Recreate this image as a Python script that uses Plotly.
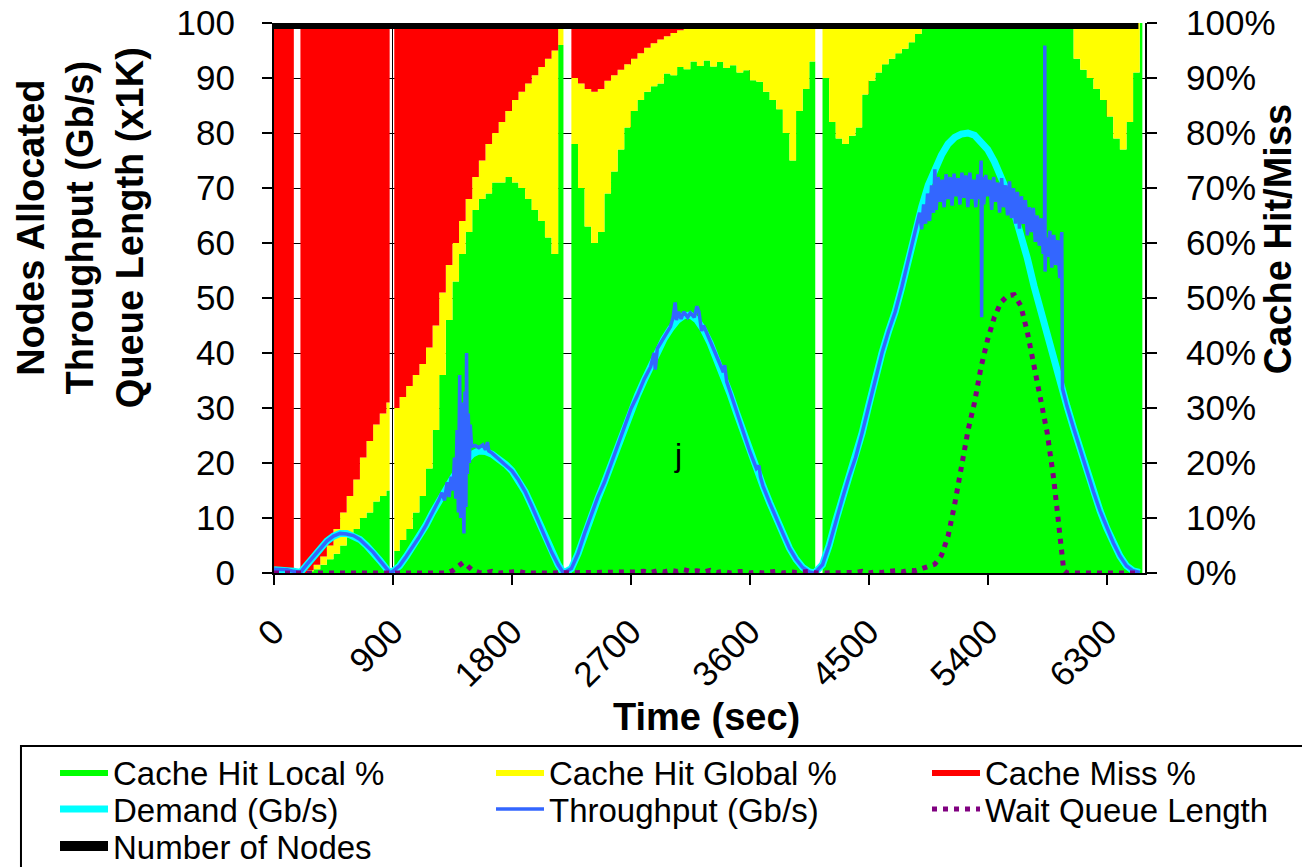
import plotly.graph_objects as go

# ---------------- data ----------------
# Cache statistics (percent, right axis); zero rows are periods with no data
cache_time = [0, 50, 100, 150,
              200, 250, 300, 350, 400, 450, 500, 550, 600, 650, 700, 750, 800, 850, 875,
              910, 950, 1000, 1050, 1100, 1150, 1200, 1250, 1300, 1350, 1400, 1450, 1500,
              1550, 1600, 1650, 1700, 1750, 1800, 1850, 1900, 1950, 2000, 2050, 2100, 2150, 2190,
              2250, 2300, 2350, 2400, 2450, 2500, 2550, 2600, 2650, 2700, 2750, 2800, 2850,
              2900, 2950, 3000, 3050, 3100, 3150, 3200, 3250, 3300, 3350, 3400, 3450, 3500,
              3550, 3600, 3650, 3700, 3750, 3800, 3850, 3900, 3950, 4000, 4050, 4095,
              4150, 4200, 4250, 4300, 4350, 4400, 4450, 4500, 4550, 4600, 4650, 4700, 4750,
              4800, 4850, 4900, 4950, 5000, 5050, 5100, 5150, 5200, 5250, 5300, 5350, 5400,
              5450, 5500, 5550, 5600, 5650, 5700, 5750, 5800, 5850, 5900, 5950, 6000, 6050,
              6100, 6150, 6200, 6250, 6300, 6350, 6400, 6450, 6500, 6550, 6570]

hit_local = [0, 0, 0, 0,
             0, 0.3, 0.7, 1.5, 2.5, 3.5, 5, 6.5, 8, 10, 11, 13, 14, 15, 0,
             4, 6, 8, 11, 14, 19, 26, 36, 46, 53, 58, 62, 66,
             68, 69, 71, 71, 72, 71, 70, 68, 66, 64, 61, 58, 96, 0,
             78, 70, 63, 60, 62, 69, 73, 77, 81, 84, 86, 87.5, 88.5,
             89, 90.8, 90.5, 92, 91.6, 93, 92.2, 93.2, 92.1, 92.9, 91.8, 92.3, 91,
             91.4, 89.6, 89.3, 87.5, 86, 84.3, 80, 75, 84, 88, 93, 0,
             90, 82, 79, 78, 79.5, 81, 87, 89.5, 91, 92.5, 93.5, 94.5, 95.3,
             96.5, 98, 99.3, 100, 100, 100, 100, 100, 100, 100, 100, 100, 100,
             100, 100, 100, 100, 100, 100, 100, 100, 100, 100, 100, 99, 93.5,
             91.5, 90, 88, 86, 83, 79, 77, 82, 91, 100, 100]

hit_global = [0, 0, 0, 0,
              0, 0.2, 0.8, 1.5, 2.5, 4.5, 6, 7.5, 9, 11, 13, 14, 15, 16, 0,
              26, 26, 26, 25, 24, 22, 19, 15, 10, 7, 6, 6, 6,
              7, 9, 9, 11, 12, 15, 17.5, 21, 24.5, 28, 32.5, 37, 3.5, 0,
              12, 19, 25, 27.5, 26, 20.5, 17.5, 14.5, 11.5, 9.5, 8.5, 8, 7.8,
              8, 6.8, 7.7, 6.7, 7.6, 6.6, 7.8, 6.8, 7.9, 7.1, 8.2, 7.7, 9,
              8.6, 10.4, 10.7, 12.5, 14, 15.7, 20, 25, 16, 12, 7, 0,
              10, 18, 21, 22, 20.5, 19, 13, 10.5, 9, 7.5, 6.5, 5.5, 4.7,
              3.5, 2, 0.7, 0, 0, 0, 0, 0, 0, 0, 0, 0, 0,
              0, 0, 0, 0, 0, 0, 0, 0, 0, 0, 0, 1, 6.5,
              8.5, 10, 12, 14, 17, 21, 23, 18, 9, 0, 0]

miss = [100, 100, 100, 0,
        100, 99.5, 98.5, 97, 95, 92, 89, 86, 83, 79, 76, 73, 71, 69, 0,
        70, 68, 66, 64, 62, 59, 55, 49, 44, 40, 36, 32, 28,
        25, 22, 20, 18, 16, 14, 12.5, 11, 9.5, 8, 6.5, 5, 0.5, 0,
        10, 11, 12, 12.5, 12, 10.5, 9.5, 8.5, 7.5, 6.5, 5.5, 4.5, 3.7,
        3, 2.4, 1.8, 1.3, 0.8, 0.4, 0, 0, 0, 0, 0, 0, 0,
        0, 0, 0, 0, 0, 0, 0, 0, 0, 0, 0, 0,
        0, 0, 0, 0, 0, 0, 0, 0, 0, 0, 0, 0, 0,
        0, 0, 0, 0, 0, 0, 0, 0, 0, 0, 0, 0, 0,
        0, 0, 0, 0, 0, 0, 0, 0, 0, 0, 0, 0, 0,
        0, 0, 0, 0, 0, 0, 0, 0, 0, 0, 0]

# Demand (Gb/s, left axis)
demand_time = (list(range(0, 851, 50)) + [880] + list(range(900, 2151, 50)) + [2190]
               + list(range(2250, 4051, 50)) + [4090] + list(range(4150, 6551, 50)))
demand = [0.6, 0.6, 0.5, 0.3, 0.1, 1.6, 3.0, 4.5, 5.8, 6.7, 7.2, 7.2, 6.8, 6.1, 5.0, 3.8, 2.3, 0.8,
          0.0,
          0.3, 1.3, 3.0, 4.8, 6.6, 8.7, 11.0, 13.2, 15.2, 17.2, 19.0, 20.5, 21.6, 22.2, 22.1, 21.6,
          20.8, 19.8, 18.6, 16.9, 14.8, 12.2, 9.4, 6.5, 3.8, 1.5,
          0.0,
          0.8, 3.5, 7.0, 10.5, 13.5, 16.5, 19.8, 23.0, 26.5, 29.5, 32.3, 35.0, 37.5, 40.3, 42.5,
          44.4, 45.9, 46.8, 46.9, 46.0, 44.2, 41.8, 39.0, 36.0, 32.6, 29.1, 25.6, 22.1, 18.8, 15.8,
          12.8, 9.8, 7.0, 4.5, 2.5, 1.0, 0.2,
          0.0,
          1.5, 5.0, 9.5, 13.5, 17.5, 21.0, 25.5, 30.5, 35.5, 40.0, 44.0, 47.5, 52.0, 57.0, 62.0,
          66.5, 70.5, 73.5, 76.0, 78.0, 79.2, 79.8, 80.0, 79.6, 78.5, 77.0, 74.8, 72.2, 69.2, 65.6,
          61.8, 57.2, 52.2, 47.6, 43.4, 39.2, 35.0, 30.3, 26.3, 22.3, 18.5, 14.8, 11.3, 8.2, 5.5,
          3.1, 1.3, 0.4, 0.1]

# Throughput (Gb/s, left axis)
tp_time = [0, 50, 100, 150, 200, 250, 300, 350, 400, 450, 500, 550, 600, 650, 700, 750, 800, 850, 880,
           900, 950, 1000, 1050, 1100, 1150, 1200,
           1250, 1270, 1290, 1310, 1325, 1340, 1355, 1365, 1375, 1385, 1395,
           1405, 1412, 1420, 1428, 1437, 1445, 1452, 1457, 1463, 1470, 1478, 1485, 1495,
           1520, 1550, 1580, 1600, 1615, 1625, 1650,
           1700, 1750, 1800, 1850, 1900, 1950, 2000, 2050, 2100, 2150, 2190,
           2250, 2300, 2350, 2400, 2450, 2500, 2550, 2600, 2650, 2700, 2750, 2800, 2850,
           2875, 2885, 2900, 2950, 3000, 3020, 3035, 3045, 3060, 3080,
           3100, 3130, 3150, 3180, 3200, 3215, 3235, 3250,
           3300, 3350, 3400, 3410, 3425, 3450,
           3500, 3550, 3600, 3650, 3670, 3680, 3700,
           3750, 3800, 3850, 3900, 3950, 4000, 4050, 4090,
           4150, 4200, 4250, 4300, 4350, 4400, 4450, 4500, 4550, 4600, 4650, 4700, 4750, 4800, 4850,
           4870, 4885, 4900, 4915, 4930, 4945, 4960, 4975, 4990, 5000,
           5010, 5025, 5040, 5055, 5070, 5085, 5100, 5115, 5130, 5145,
           5160, 5175, 5190, 5205, 5220, 5235, 5250, 5265, 5280, 5295,
           5310, 5325, 5340, 5350, 5354, 5358, 5370, 5385, 5400, 5415,
           5430, 5445, 5460, 5475, 5490, 5505, 5520, 5535, 5550, 5565,
           5580, 5595, 5610, 5625, 5640, 5655, 5670, 5685, 5700, 5715,
           5730, 5745, 5760, 5775, 5790, 5805, 5820, 5830, 5832, 5834,
           5840, 5855, 5870, 5885, 5900, 5915, 5930, 5945, 5960, 5966,
           6000, 6050, 6100, 6150, 6200, 6250, 6300, 6350, 6400, 6450, 6500, 6550]
throughput = [0.7, 0.7, 0.6, 0.3, 0.1, 1.6, 3.0, 4.5, 5.8, 6.7, 7.2, 7.1, 6.8, 6.1, 5.0, 3.8, 2.3, 0.8, 0.0,
              0.3, 1.3, 3.0, 4.8, 6.6, 8.7, 11.0,
              13.4, 14.6, 13.2, 16.5, 13.8, 17.5, 15.0, 21.0, 13.5, 26.0, 11.0,
              36.0, 10.0, 31.0, 14.0, 7.2, 33.0, 12.0, 40.0, 18.0, 29.0, 20.0, 27.0, 23.0,
              23.2, 22.8, 23.3, 22.4, 23.8, 22.2, 21.8,
              20.8, 19.8, 18.6, 16.9, 14.8, 12.2, 9.4, 6.5, 3.8, 1.5, 0.0,
              0.8, 3.5, 7.2, 10.5, 13.8, 16.5, 19.8, 23.2, 26.5, 29.8, 32.3, 35.2, 37.5,
              40.0, 37.0, 40.8, 42.8, 44.8, 46.5, 49.2, 46.0, 47.5, 46.2,
              47.5, 46.5, 47.3, 46.5, 48.5, 47.5, 44.0, 45.0,
              42.2, 39.3, 36.5, 37.8, 34.8, 33.0,
              29.3, 25.8, 22.1, 19.0, 19.5, 17.5, 15.8,
              12.8, 9.8, 7.2, 4.5, 2.5, 1.0, 0.2, 0.0,
              1.5, 5.0, 9.5, 13.5, 17.5, 21.0, 25.5, 30.5, 35.5, 40.0, 44.0, 47.5, 52.0, 57.0, 62.0,
              63.5, 65.5, 62.5, 67.0, 63.5, 69.0, 64.0, 70.5, 65.5, 73.4,
              66.0, 72.0, 67.5, 71.5, 66.5, 72.5, 68.0, 72.0, 66.8, 72.6,
              68.5, 71.8, 67.0, 72.8, 68.2, 72.3, 66.5, 72.8, 68.0, 71.5,
              66.5, 72.5, 68.0, 75.0, 46.5, 72.0, 67.0, 72.4, 68.5, 71.5,
              66.0, 72.0, 67.5, 71.0, 65.5, 71.8, 66.5, 70.5, 65.0, 71.2,
              64.5, 70.0, 63.5, 69.3, 62.6, 68.5, 63.5, 67.8, 61.4, 66.5,
              62.0, 66.4, 60.2, 65.0, 59.5, 64.5, 58.0, 63.3, 95.9, 54.8,
              61.0, 57.5, 62.2, 55.5, 61.5, 56.0, 60.5, 53.6, 62.0, 33.5,
              30.3, 26.3, 22.3, 18.5, 14.8, 11.3, 8.2, 5.5, 3.1, 1.3, 0.4, 0.1]

# Wait queue length (x1K, left axis)
queue_time = list(range(0, 1401, 50)) + [1430] + list(range(1450, 5951, 50)) + [5975] + list(range(6000, 6551, 50))
queue_len = ([0] * 26 + [0, 0.4, 1.2]
             + [1.9]
             + [1.6, 0.5, 0.1, 0, 0.3, 0, 0.1, 0.2, 0.3, 0, 0.1, 0, 0, 0, 0, 0]
             + [0] * 10
             + [0.2, 0.3, 0.1, 0.4, 0.2, 0.5, 0.3, 0.6, 0.3, 0.4, 0.2, 0.5, 0.1, 0.3, 0,
                0.2, 0.3, 0, 0.2, 0, 0.1, 0.3, 0, 0.2, 0.1, 0.2, 0.3, 0, 0, 0,
                0.1, 0, 0.2, 0.1, 0.3, 0, 0.2, 0.1, 0.3, 0.4, 0.2, 0.5, 0.4, 0.8, 1.0]
             + [1.6, 3.2, 6.7, 12.5, 19.3, 25.8, 31.0, 37.5, 42.5, 46.5, 49.2, 50.4, 50.6, 48.6,
                43.8, 38.0, 32.0, 25.5, 17.0, 7.0]
             + [0.5]
             + [0, 0.1, 0, 0, 0.1, 0, 0, 0, 0.1, 0, 0, 0])

# Number of nodes allocated (left axis)
node_time = [0, 6540]
nodes = [100, 100]

x_ticks = [0, 900, 1800, 2700, 3600, 4500, 5400, 6300]
y_ticks = [0, 10, 20, 30, 40, 50, 60, 70, 80, 90, 100]
pct_labels = ["0%", "10%", "20%", "30%", "40%", "50%", "60%", "70%", "80%", "90%", "100%"]

assert len(cache_time) == len(hit_local) == len(hit_global) == len(miss)
assert len(demand_time) == len(demand)
assert len(tp_time) == len(throughput)
assert len(queue_time) == len(queue_len)

# ---------------- figure ----------------
FONT = "Liberation Sans, Arial, sans-serif"
fig = go.Figure()

for name, vals, col, lg in [("Cache Hit Local %", hit_local, "#00FF00", "legend"),
                            ("Cache Hit Global %", hit_global, "#FFFF00", "legend2"),
                            ("Cache Miss %", miss, "#FF0000", "legend3")]:
    fig.add_trace(go.Scatter(x=cache_time, y=vals, name=name, mode="lines",
                             stackgroup="cache", line=dict(width=0, shape="hv", color=col),
                             fillcolor=col, yaxis="y2", legend=lg, hoverinfo="skip"))

fig.add_trace(go.Scatter(x=demand_time, y=demand, name="Demand (Gb/s)", mode="lines",
                         line=dict(color="#00FFFF", width=7), yaxis="y", legend="legend4",
                         cliponaxis=False))
fig.add_trace(go.Scatter(x=tp_time, y=throughput, name="Throughput (Gb/s)", mode="lines",
                         line=dict(color="#3366FF", width=3.5), yaxis="y", legend="legend5",
                         cliponaxis=False))
fig.add_trace(go.Scatter(x=queue_time, y=queue_len, name="Wait Queue Length", mode="lines",
                         line=dict(color="#800080", width=5, dash="5px,6px"), yaxis="y",
                         legend="legend6", cliponaxis=False))
fig.add_trace(go.Scatter(x=node_time, y=nodes, name="Number of Nodes", mode="lines",
                         line=dict(color="#000000", width=12), yaxis="y", legend="legend7",
                         cliponaxis=False))

tickfont = dict(family=FONT, size=35, color="black")
axis_common = dict(ticks="outside", ticklen=10, tickwidth=1.5, tickcolor="black",
                   showline=True, linecolor="black", linewidth=2, zeroline=False,
                   tickfont=tickfont)


def leg(xpx, ypx):
    return dict(orientation="v", xref="container", yref="container",
                x=xpx / 1302, y=1 - ypx / 867, xanchor="left", yanchor="middle",
                font=dict(family=FONT, size=33, color="black"), itemwidth=48,
                bgcolor="rgba(0,0,0,0)", borderwidth=0)


fig.update_layout(
    width=1302, height=867,
    margin=dict(l=274, r=157, t=23, b=294, pad=0, autoexpand=False),
    plot_bgcolor="white", paper_bgcolor="white",
    font=dict(family=FONT, color="black"),
    xaxis=dict(range=[0, 6590], tickvals=x_ticks, tickangle=-45, showgrid=True,
               gridcolor="black", gridwidth=1, layer="below traces", anchor="y2",
               ticklabelstandoff=12, **axis_common),
    yaxis2=dict(range=[0, 100], tickvals=y_ticks, ticktext=pct_labels, side="right",
                showgrid=True, gridcolor="black", gridwidth=1, ticklabelstandoff=22,
                **axis_common),
    yaxis=dict(range=[0, 100], tickvals=y_ticks, overlaying="y2", side="left",
               showgrid=False, ticklabelstandoff=20, **axis_common),
    legend=leg(55, 772), legend2=leg(491, 772), legend3=leg(927, 772),
    legend4=leg(55, 809), legend5=leg(491, 809), legend6=leg(927, 809),
    legend7=leg(55, 846),
    showlegend=True,
    annotations=[
        dict(text="Nodes Allocated<br>Throughput (Gb/s)<br>Queue Length (x1K)",
             xref="paper", yref="paper", x=-0.2227, y=0.627, xanchor="center",
             yanchor="middle", textangle=-90, showarrow=False,
             font=dict(family=FONT, size=38, color="black", weight="bold")),
        dict(text="Cache Hit/Miss", xref="paper", yref="paper", x=1.1527, y=0.607,
             xanchor="center", yanchor="middle", textangle=-90, showarrow=False,
             font=dict(family=FONT, size=38, color="black", weight="bold")),
        dict(text="Time (sec)", xref="paper", yref="paper", x=0.496, y=-0.262,
             xanchor="center", yanchor="middle", showarrow=False,
             font=dict(family=FONT, size=38, color="black", weight="bold")),
        dict(text="j", xref="x", yref="y", x=3056, y=21.5, showarrow=False,
             font=dict(family=FONT, size=32, color="black")),
    ],
    shapes=[dict(type="rect", xref="paper", yref="paper", x0=-0.2905, x1=1.19,
                 y0=-0.3145, y1=-0.56, line=dict(color="black", width=2),
                 fillcolor="rgba(0,0,0,0)", layer="above")],
)

fig.write_html("out.html", config={"displayModeBar": False},
               post_script="document.body.style.margin='0';document.body.style.overflow='hidden';")
